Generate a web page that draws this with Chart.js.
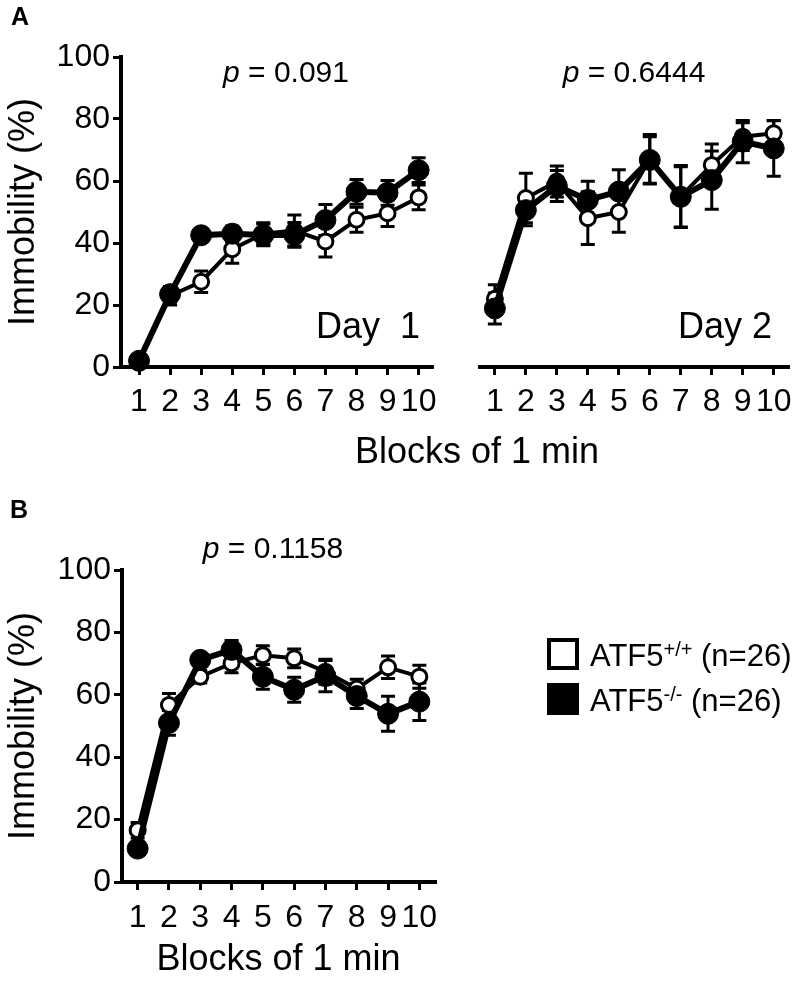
<!DOCTYPE html>
<html>
<head>
<meta charset="utf-8">
<script src="https://cdn.jsdelivr.net/npm/chart.js@4.4.1/dist/chart.umd.min.js"></script>
<style>
  body { margin: 0; background: #fff; }
  #page { position: relative; width: 800px; height: 983px; overflow: hidden; font-family: "Liberation Sans", Arial, sans-serif; color: #000; }
  canvas { position: absolute; left: 0; }
  .t { position: absolute; transform: translate(-50%, -50%); line-height: 1; white-space: nowrap; }
  .panel { font-weight: bold; font-size: 25px; }
  .pval { font-size: 30px; }
  .day { font-size: 36px; }
  .xtitle { font-size: 36px; }
  .box { position: absolute; width: 32px; height: 32px; box-sizing: border-box; border: 4px solid #000; }
  .leg { position: absolute; left: 590px; transform: translateY(-50%); font-size: 31px; line-height: 1; white-space: nowrap; }
  .leg span { font-size: 20px; vertical-align: 0.5em; }
</style>
</head>
<body>
<div id="page">
  <canvas id="day1" width="800" height="480" style="top:0"></canvas>
  <canvas id="day2" width="800" height="480" style="top:0"></canvas>
  <canvas id="panelB" width="800" height="503" style="top:480px"></canvas>

  <div class="t panel" style="left:20px;top:16px">A</div>
  <div class="t panel" style="left:19px;top:509px">B</div>
  <div class="t pval" style="left:286px;top:72px"><i>p</i> = 0.091</div>
  <div class="t pval" style="left:634px;top:72px"><i>p</i> = 0.6444</div>
  <div class="t pval" style="left:273px;top:548px"><i>p</i> = 0.1158</div>
  <div class="t day" style="left:368px;top:326px">Day&nbsp; 1</div>
  <div class="t day" style="left:725px;top:326px">Day 2</div>
  <div class="t xtitle" style="left:477px;top:451px">Blocks of 1 min</div>

  <div class="box" style="left:547px;top:638px;background:#fff"></div>
  <div class="box" style="left:547px;top:683px;background:#000"></div>
  <div class="leg" style="top:655px">ATF5<span>+/+</span> (n=26)</div>
  <div class="leg" style="top:700px">ATF5<span>-/-</span> (n=26)</div>
</div>

<script>
const blocks = [1, 2, 3, 4, 5, 6, 7, 8, 9, 10];

// Day 1
const day1Wt = [2, 23, 27.5, 38, 43, 44, 40.5, 47.5, 49.6, 54.7];
const day1WtSem = [1, 3, 3.5, 4.5, 3.5, 5, 5, 4, 4.3, 4];
const day1Ko = [2, 23.5, 42.5, 43, 42.6, 42.6, 47.4, 56.5, 56.2, 63.5];
const day1KoSem = [1, 2.5, 2, 2.5, 3.5, 4, 5, 4, 4, 4];

// Day 2
const day2Wt = [22, 54.5, 59.8, 48, 50, 67, 55, 65.2, 74.3, 75.4];
const day2WtSem = [4.5, 8, 5, 8.5, 6.5, 8, 10, 6.7, 4.5, 4];
const day2Ko = [18.9, 50.6, 58.4, 53.9, 56.6, 66.8, 54.9, 60.3, 72.7, 70.5];
const day2KoSem = [5, 5, 5, 6, 7, 7.5, 9.7, 9.4, 6.8, 9];

// panel B
const bWt = [16.6, 56.7, 65.8, 70.1, 72.7, 71.7, 67.4, 62, 68.8, 65.8];
const bWtSem = [2.5, 3.7, 2, 3, 3, 3, 4, 3, 3.6, 3.7];
const bKo = [10.7, 51, 71.2, 74.4, 65.8, 61.6, 66, 59.6, 53.9, 57.8];
const bKoSem = [2, 4, 2, 3, 4, 4, 5, 4, 5.6, 6];

const yTicks = [0, 20, 40, 60, 80, 100];

const FONT = "'Liberation Sans', Arial, sans-serif";

// SEM bars, drawn behind lines and markers
const errorBars = {
  id: "errorBars",
  beforeDatasetsDraw(chart) {
    const { ctx } = chart;
    const y = chart.scales.y;
    ctx.save();
    ctx.strokeStyle = "#000";
    ctx.lineWidth = 3;
    chart.data.datasets.forEach((ds, i) => {
      chart.getDatasetMeta(i).data.forEach((pt, j) => {
        const v = ds.data[j].y;
        const e = ds.sem[j];
        const top = y.getPixelForValue(v + e);
        const bot = y.getPixelForValue(v - e);
        ctx.beginPath();
        ctx.moveTo(pt.x, top);
        ctx.lineTo(pt.x, bot);
        ctx.moveTo(pt.x - 7, top);
        ctx.lineTo(pt.x + 7, top);
        ctx.moveTo(pt.x - 7, bot);
        ctx.lineTo(pt.x + 7, bot);
        ctx.stroke();
      });
    });
    ctx.restore();
  },
};

function series(vals, sem, filled) {
  return {
    data: blocks.map((b, i) => ({ x: b, y: vals[i] })),
    sem,
    borderColor: "#000",
    borderWidth: filled ? 6 : 4,
    pointRadius: filled ? 10.5 : 7.5,
    pointBorderWidth: filled ? 1 : 3,
    pointBackgroundColor: filled ? "#000" : "#fff",
    pointBorderColor: "#000",
    tension: 0,
    clip: false,
  };
}

function makeChart(id, o) {
  new Chart(document.getElementById(id), {
    type: "line",
    // first dataset is drawn last -> filled circles on top
    data: { datasets: [series(o.ko, o.koSem, true), series(o.wt, o.wtSem, false)] },
    options: {
      responsive: false,
      animation: false,
      layout: { autoPadding: false, padding: o.padding },
      plugins: { legend: { display: false }, tooltip: { enabled: false } },
      scales: {
        x: {
          type: "linear",
          min: o.xMin,
          max: o.xMax,
          afterBuildTicks: (s) => { s.ticks = blocks.map((v) => ({ value: v })); },
          afterFit: (s) => { s.height = o.xHeight; },
          ticks: { autoSkip: false, maxRotation: 0, minRotation: 0, padding: o.xPad, color: "#000", font: { family: FONT, size: 32 } },
          grid: { drawOnChartArea: false, drawTicks: true, tickLength: 8, lineWidth: 3, color: "#000" },
          border: { display: true, width: 4, color: "#000" },
          title: o.xTitle
            ? { display: true, text: "Blocks of 1 min", color: "#000", font: { family: FONT, size: 36 }, padding: { top: 0, bottom: 0 } }
            : { display: false },
        },
        y: {
          display: o.showY,
          min: 0,
          max: 100,
          afterBuildTicks: (s) => { s.ticks = yTicks.map((v) => ({ value: v })); },
          afterFit: (s) => { s.width = o.yWidth; },
          ticks: { padding: 3, color: "#000", font: { family: FONT, size: 32 } },
          grid: { drawOnChartArea: false, drawTicks: true, tickLength: 8, lineWidth: 3, color: "#000" },
          border: { display: true, width: 4, color: "#000" },
          title: { display: true, text: "Immobility (%)", color: "#000", font: { family: FONT, size: 36 }, padding: { top: 2, bottom: 0 } },
        },
      },
    },
    plugins: [errorBars],
  });
}

makeChart("day1", {
  wt: day1Wt, wtSem: day1WtSem, ko: day1Ko, koSem: day1KoSem,
  padding: { left: 0, top: 57, right: 368, bottom: 53 },
  xMin: 0.42, xMax: 10.43, xHeight: 60, xPad: 8, yWidth: 121, showY: true, xTitle: false,
});

makeChart("day2", {
  wt: day2Wt, wtSem: day2WtSem, ko: day2Ko, koSem: day2KoSem,
  padding: { left: 480, top: 57, right: 10, bottom: 53 },
  xMin: 0.52, xMax: 10.48, xHeight: 60, xPad: 8, yWidth: 0, showY: false, xTitle: false,
});

makeChart("panelB", {
  wt: bWt, wtSem: bWtSem, ko: bKo, koSem: bKoSem,
  padding: { left: 0, top: 90, right: 365, bottom: 1 },
  xMin: 0.5, xMax: 10.5, xHeight: 100, xPad: 9, yWidth: 122, showY: true, xTitle: true,
});
</script>
</body>
</html>
